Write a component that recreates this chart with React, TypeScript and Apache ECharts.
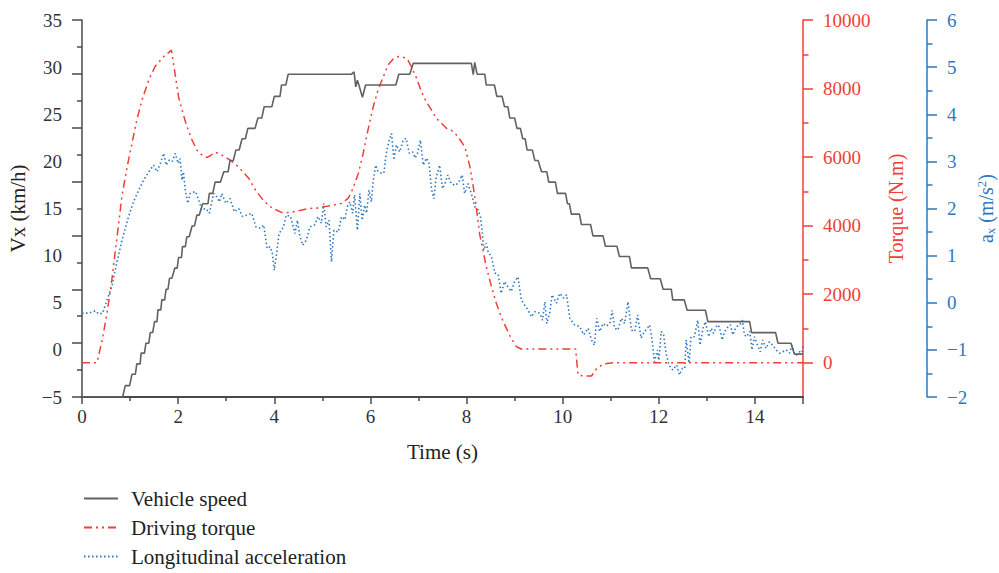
import React, { useEffect, useRef } from "react";
import * as echarts from "echarts";

// ---- data (time s, value) ----
const speedData: [number, number][] = [
  [0, -5], [0.845, -5],
  [0.9, -3.79], [0.99, -3.79], [1.04, -2.59], [1.11, -2.59], [1.14, -1.49], [1.21, -1.49],
  [1.23, -0.35], [1.3, -0.35], [1.33, 0.71], [1.39, 0.71], [1.42, 1.84], [1.47, 1.84],
  [1.51, 3.0], [1.56, 3.0], [1.58, 4.24], [1.64, 4.24], [1.66, 5.3], [1.72, 5.3],
  [1.75, 6.44], [1.79, 6.44], [1.82, 7.6], [1.87, 7.6], [1.93, 8.67], [1.98, 8.67],
  [2.01, 9.8], [2.07, 9.8], [2.09, 10.96], [2.15, 10.96], [2.18, 12.0], [2.23, 12.0],
  [2.29, 13.15], [2.34, 13.15], [2.39, 14.3], [2.44, 14.3], [2.51, 15.5], [2.62, 15.5],
  [2.65, 16.6], [2.72, 16.6], [2.77, 17.8], [2.88, 17.8], [2.95, 18.9], [3.04, 18.9],
  [3.08, 20.1], [3.15, 20.1], [3.2, 21.2], [3.27, 21.2], [3.33, 22.4], [3.4, 22.4],
  [3.45, 23.5], [3.6, 23.5], [3.66, 24.6], [3.74, 24.6], [3.79, 25.8], [3.95, 25.8],
  [4.0, 26.9], [4.12, 26.9], [4.15, 28.1], [4.24, 28.1], [4.29, 29.25], [5.61, 29.25],
  [5.66, 29.5], [5.695, 27.9], [5.73, 28.6], [5.76, 28.1], [5.835, 26.8], [5.9, 28.1], [6.53, 28.1],
  [6.59, 29.25], [6.82, 29.25], [6.89, 30.4], [8.1, 30.4],
  [8.14, 29.2], [8.17, 30.5], [8.22, 29.25], [8.38, 29.25],
  [8.41, 28.1], [8.58, 28.1], [8.63, 26.9], [8.74, 26.9], [8.79, 25.8], [8.86, 25.8],
  [8.9, 24.6], [9.0, 24.6], [9.05, 23.5], [9.12, 23.5], [9.17, 22.4], [9.22, 22.4],
  [9.26, 21.2], [9.37, 21.2], [9.42, 20.1], [9.49, 20.1], [9.56, 18.9], [9.67, 18.9],
  [9.71, 17.8], [9.85, 17.8], [9.89, 16.6], [10.06, 16.6], [10.1, 15.5], [10.14, 15.5],
  [10.18, 14.4], [10.35, 14.4], [10.39, 13.3], [10.58, 13.3], [10.63, 12.1], [10.84, 12.1],
  [10.89, 11.0], [11.13, 11.0], [11.18, 9.9], [11.39, 9.9], [11.43, 8.7], [11.77, 8.7],
  [11.83, 7.55], [12.03, 7.55], [12.09, 6.44], [12.26, 6.44], [12.29, 5.3], [12.53, 5.3],
  [12.59, 4.2], [12.97, 4.2], [13.02, 3.0], [13.89, 3.0], [13.93, 1.83], [14.43, 1.83],
  [14.48, 0.7], [14.75, 0.7], [14.82, -0.45], [15, -0.45],
];

const torqueData: [number, number][] = [
  [0, 0], [0.31, 0], [0.42, 663], [0.52, 1441], [0.62, 2414], [0.73, 3679], [0.83, 4847],
  [0.94, 5723], [1.04, 6406], [1.14, 7086], [1.25, 7670], [1.39, 8254], [1.52, 8643],
  [1.7, 8934], [1.86, 9120], [1.94, 8400], [2.01, 7750], [2.08, 7380], [2.18, 6900],
  [2.29, 6500], [2.39, 6200], [2.51, 6040], [2.6, 5990], [2.67, 6040], [2.77, 6144],
  [2.88, 6080], [3.05, 5940], [3.19, 5800], [3.33, 5600], [3.47, 5380], [3.6, 5060],
  [3.78, 4720], [3.95, 4520], [4.16, 4380], [4.32, 4380], [4.53, 4440], [4.71, 4500],
  [4.88, 4510], [5.05, 4555], [5.23, 4600], [5.4, 4650], [5.54, 4800], [5.64, 5090],
  [5.75, 5528], [5.85, 6112], [5.95, 6794], [6.06, 7475], [6.16, 7962], [6.27, 8351],
  [6.37, 8692], [6.47, 8857], [6.58, 8934], [6.68, 8915], [6.77, 8857], [6.85, 8643],
  [6.96, 8303], [7.06, 7913], [7.16, 7621], [7.27, 7378], [7.37, 7135], [7.48, 6989],
  [7.58, 6843], [7.69, 6775], [7.79, 6648], [7.89, 6454], [7.96, 6307], [8.0, 6112],
  [8.07, 5723], [8.14, 5139], [8.21, 4458], [8.27, 3776], [8.34, 3289], [8.41, 2803],
  [8.52, 2219], [8.62, 1732], [8.72, 1343], [8.83, 1002], [8.93, 710], [9.04, 467],
  [9.14, 400], [10.27, 400], [10.32, -359], [10.45, -388], [10.6, -388], [10.7, -184],
  [10.84, -37], [11.05, 0], [15, 0],
];

const accelData: [number, number][] = [
  [0, -0.22], [0.14, -0.22], [0.28, -0.17], [0.35, -0.24], [0.43, -0.22], [0.52, 0.06],
  [0.62, 0.34], [0.69, 0.69], [0.8, 1.19], [0.87, 1.47], [0.97, 1.83], [1.07, 2.14],
  [1.18, 2.39], [1.28, 2.6], [1.39, 2.78], [1.49, 2.92], [1.56, 2.78], [1.63, 2.96],
  [1.7, 3.17], [1.75, 2.92], [1.82, 3.03], [1.88, 3.0], [1.94, 3.17], [2.0, 2.96],
  [2.04, 3.06], [2.08, 2.6], [2.11, 2.78], [2.15, 2.39], [2.2, 2.11], [2.25, 2.32],
  [2.36, 2.36], [2.43, 2.18], [2.49, 1.97], [2.58, 2.0], [2.65, 1.9], [2.74, 2.32],
  [2.8, 2.25], [2.86, 2.14], [2.91, 2.32], [2.99, 2.11], [3.08, 2.21], [3.17, 1.93],
  [3.26, 2.0], [3.34, 1.83], [3.43, 1.86], [3.53, 1.9], [3.62, 1.61], [3.71, 1.58],
  [3.78, 1.65], [3.85, 1.15], [3.91, 1.19], [3.96, 1.05], [4.0, 0.69], [4.05, 1.05],
  [4.1, 1.47], [4.19, 1.61], [4.25, 1.86], [4.34, 1.83], [4.43, 1.47], [4.48, 1.75],
  [4.53, 1.44], [4.59, 1.22], [4.67, 1.33], [4.74, 1.61], [4.84, 1.65], [4.91, 1.83],
  [4.98, 1.69], [5.03, 2.11], [5.08, 1.61], [5.14, 1.75], [5.19, 0.87], [5.24, 1.54],
  [5.33, 1.5], [5.4, 1.83], [5.47, 1.76], [5.52, 2.04], [5.57, 2.14], [5.63, 1.9],
  [5.67, 2.29], [5.73, 1.54], [5.78, 2.32], [5.83, 1.75], [5.88, 2.07], [5.92, 1.9],
  [5.97, 2.39], [6.02, 2.14], [6.06, 2.6], [6.11, 2.92], [6.16, 2.78], [6.23, 2.75],
  [6.28, 2.75], [6.33, 3.17], [6.39, 3.45], [6.44, 3.59], [6.49, 3.03], [6.54, 3.35],
  [6.61, 3.2], [6.68, 3.45], [6.74, 3.49], [6.81, 3.17], [6.88, 3.2], [6.93, 3.07],
  [6.98, 3.17], [7.04, 3.45], [7.1, 2.92], [7.17, 3.07], [7.22, 2.96], [7.27, 2.42],
  [7.32, 2.21], [7.37, 2.67], [7.44, 2.92], [7.5, 2.42], [7.55, 2.53], [7.61, 2.71],
  [7.68, 2.53], [7.77, 2.49], [7.84, 2.56], [7.91, 2.71], [7.96, 2.32], [8.03, 2.53],
  [8.1, 2.32], [8.17, 2.04], [8.24, 1.97], [8.29, 1.83], [8.33, 1.47], [8.36, 1.12],
  [8.41, 1.26], [8.45, 1.08], [8.52, 0.98], [8.59, 0.63], [8.66, 0.6], [8.72, 0.2],
  [8.79, 0.45], [8.86, 0.34], [8.93, 0.24], [9.0, 0.45], [9.07, 0.55], [9.14, 0.06],
  [9.21, -0.05], [9.28, -0.16], [9.35, -0.3], [9.42, -0.19], [9.52, -0.22], [9.58, -0.37],
  [9.63, 0.02], [9.67, -0.44], [9.73, -0.22], [9.78, 0.17], [9.87, -0.01], [9.94, 0.2],
  [10.02, 0.1], [10.08, 0.17], [10.15, -0.33], [10.25, -0.47], [10.35, -0.5], [10.44, -0.68],
  [10.53, -0.54], [10.6, -0.79], [10.66, -0.9], [10.71, -0.33], [10.77, -0.61], [10.84, -0.44],
  [10.91, -0.5], [10.98, -0.44], [11.03, -0.16], [11.08, -0.54], [11.15, -0.58], [11.22, -0.33],
  [11.29, -0.44], [11.36, 0.02], [11.43, -0.58], [11.5, -0.61], [11.56, -0.26], [11.63, -0.75],
  [11.7, -0.61], [11.76, -0.55], [11.81, -0.47], [11.86, -0.79], [11.91, -1.25], [11.97, -1.0],
  [12.0, -1.22], [12.05, -0.61], [12.1, -0.68], [12.15, -1.07], [12.21, -1.32], [12.29, -1.43],
  [12.37, -1.32], [12.43, -1.53], [12.49, -1.39], [12.54, -1.39], [12.57, -0.79], [12.63, -1.28],
  [12.67, -0.72], [12.74, -0.72], [12.81, -0.37], [12.86, -0.9], [12.92, -0.54], [12.97, -0.4],
  [13.04, -0.72], [13.09, -0.54], [13.14, -0.65], [13.21, -0.47], [13.26, -0.51], [13.32, -0.79],
  [13.37, -0.61], [13.44, -0.51], [13.49, -0.47], [13.54, -0.68], [13.61, -0.51], [13.68, -0.47],
  [13.74, -0.37], [13.78, -0.68], [13.83, -0.72], [13.89, -0.61], [13.94, -1.0], [13.99, -0.72],
  [14.04, -0.86], [14.11, -1.04], [14.16, -0.79], [14.23, -0.97], [14.3, -0.83], [14.37, -0.9],
  [14.44, -1.0], [14.51, -1.07], [14.58, -1.04], [14.65, -1.0], [14.72, -1.07], [14.77, -0.9],
  [14.82, -1.07], [14.87, -1.11], [14.93, -1.04], [14.98, -1.06], [15.0, -0.93],
];

const speedLabels = [-5, 0, 5, 10, 15, 20, 25, 30, 35];
const speedMajorTicks = [-5, 0.714, 6.429, 12.143, 17.857, 23.571, 29.286, 35];
const speedMinorTicks = [-2.143, 3.571, 9.286, 15, 20.714, 26.429, 32.143];
const torqueLabels = [0, 2000, 4000, 6000, 8000, 10000];
const torqueMinorTicks = [1000, 3000, 5000, 7000, 9000];
const timeLabels = [0, 2, 4, 6, 8, 10, 12, 14];

const seriesNames = ["Vehicle speed", "Driving torque", "Longitudinal acceleration"];

const FONT = "Liberation Serif";
const GRAY = "#626262";
const AXIS_GRAY = "#4a4a4a";
const RED = "#ef3f36";
const BLUE = "#2e78bf";

const fmt = (v: number) => String(v).replace("-", "\u2212");

export default function App() {
  const ref = useRef<HTMLDivElement>(null);
  useEffect(() => {
    if (!ref.current) return;
    const chart = echarts.init(ref.current, null, { renderer: "svg" });
    const tickLabel = (color: string) => ({
      color,
      fontFamily: FONT,
      fontSize: 19,
      margin: 20,
      formatter: fmt,
    });
    chart.setOption({
      animation: false,
      backgroundColor: "#ffffff",
      textStyle: { fontFamily: FONT },
      grid: { left: 82, right: 196, top: 20, bottom: 176, containLabel: false, outerBoundsMode: "none" },
      legend: {
        orient: "vertical",
        left: 83,
        top: 488,
        height: 120,
        padding: 0,
        itemWidth: 34,
        itemHeight: 14,
        itemGap: 8,
        data: seriesNames,
        itemStyle: { opacity: 0 },
        textStyle: { fontFamily: FONT, fontSize: 21, color: "#222", padding: [0, 0, 0, 8] },
      },
      xAxis: {
        type: "value",
        min: 0,
        max: 15,
        interval: 2,
        name: "Time (s)",
        nameLocation: "middle",
        nameGap: 44,
        nameMoveOverlap: false,
        nameTextStyle: { fontFamily: FONT, fontSize: 21, color: "#222" },
        axisLine: { onZero: false, lineStyle: { color: AXIS_GRAY, width: 2 } },
        axisTick: { length: 7, lineStyle: { color: AXIS_GRAY, width: 1.5 } },
        minorTick: { show: true, splitNumber: 2, length: 4, lineStyle: { color: AXIS_GRAY, width: 1.5 } },
        axisLabel: { ...tickLabel("#333"), margin: 10, customValues: timeLabels },
        splitLine: { show: false },
      },
      yAxis: [
        {
          type: "value",
          position: "left",
          min: -5,
          max: 35,
          interval: 5,
          name: "Vx (km/h)",
          nameLocation: "middle",
          nameRotate: 90,
          nameGap: 54,
          nameMoveOverlap: false,
          nameTextStyle: { fontFamily: FONT, fontSize: 21, color: "#222" },
          axisLine: { show: true, onZero: false, lineStyle: { color: AXIS_GRAY, width: 1.5 } },
          axisTick: { show: true, length: 10, customValues: speedMajorTicks, lineStyle: { color: AXIS_GRAY, width: 1.5 } },
          axisLabel: { ...tickLabel("#333"), customValues: speedLabels },
          splitLine: { show: false },
        },
        {
          type: "value",
          position: "left",
          min: -5,
          max: 35,
          axisLine: { show: false, onZero: false },
          axisTick: { show: true, length: 5, customValues: speedMinorTicks, lineStyle: { color: AXIS_GRAY, width: 1.5 } },
          axisLabel: { show: false },
          splitLine: { show: false },
        },
        {
          type: "value",
          position: "right",
          offset: 0,
          min: -1000,
          max: 10000,
          name: "Torque (N.m)",
          nameLocation: "middle",
          nameRotate: 90,
          nameGap: 83,
          nameMoveOverlap: false,
          nameTextStyle: { fontFamily: FONT, fontSize: 20, color: RED },
          axisLine: { show: true, onZero: false, lineStyle: { color: RED, width: 1.5 } },
          axisTick: { show: true, length: 10, customValues: torqueLabels, lineStyle: { color: RED, width: 1.5 } },
          axisLabel: { ...tickLabel(RED), customValues: torqueLabels },
          splitLine: { show: false },
        },
        {
          type: "value",
          position: "right",
          offset: 0,
          min: -1000,
          max: 10000,
          axisLine: { show: false, onZero: false },
          axisTick: { show: true, length: 5.5, customValues: torqueMinorTicks, lineStyle: { color: RED, width: 1.5 } },
          axisLabel: { show: false },
          splitLine: { show: false },
        },
        {
          type: "value",
          position: "right",
          offset: 124,
          min: -2,
          max: 6,
          interval: 1,
          name: "{a|a}{s|x}{a| (m/s}{p|2}{a|)}",
          nameLocation: "middle",
          nameRotate: 90,
          nameGap: 48,
          nameMoveOverlap: false,
          nameTextStyle: {
            fontFamily: FONT,
            fontSize: 20,
            color: BLUE,
            rich: {
              a: { fontFamily: FONT, fontSize: 20, color: BLUE, lineHeight: 22, verticalAlign: "middle" },
              s: { fontFamily: FONT, fontSize: 13, color: BLUE, lineHeight: 13, verticalAlign: "bottom" },
              p: { fontFamily: FONT, fontSize: 13, color: BLUE, lineHeight: 13, verticalAlign: "top" },
            },
          },
          axisLine: { show: true, onZero: false, lineStyle: { color: BLUE, width: 1.5 } },
          axisTick: { show: true, length: 10, lineStyle: { color: BLUE, width: 1.5 } },
          minorTick: { show: true, splitNumber: 2, length: 5.5, lineStyle: { color: BLUE, width: 1.5 } },
          axisLabel: { ...tickLabel(BLUE) },
          splitLine: { show: false },
        },
      ],
      series: [
        {
          name: seriesNames[0],
          type: "line",
          yAxisIndex: 0,
          data: speedData,
          symbol: "none",
          lineStyle: { color: GRAY, width: 1.6, type: "solid" },
          itemStyle: { color: GRAY },
          z: 3,
        },
        {
          name: seriesNames[1],
          type: "line",
          yAxisIndex: 2,
          data: torqueData,
          symbol: "none",
          lineStyle: { color: RED, width: 1.5, type: [8, 4, 2, 4, 2, 4] },
          itemStyle: { color: RED },
          z: 2,
        },
        {
          name: seriesNames[2],
          type: "line",
          yAxisIndex: 4,
          data: accelData,
          symbol: "none",
          lineStyle: { color: BLUE, width: 1.6, type: [1.5, 2.5] },
          itemStyle: { color: BLUE },
          z: 1,
        },
      ],
    });
    return () => chart.dispose();
  }, []);
  return <div ref={ref} style={{ width: 999, height: 573, position: "absolute", left: 0, top: 0 }} />;
}
